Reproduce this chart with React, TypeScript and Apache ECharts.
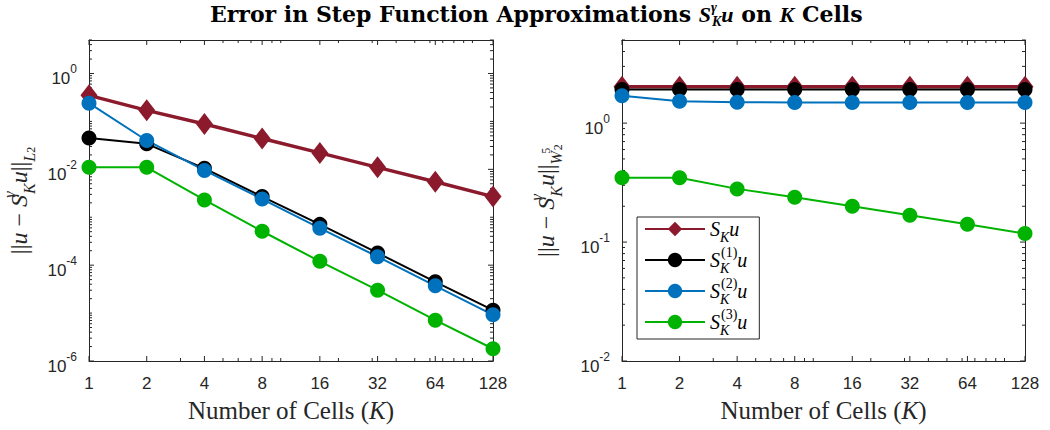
import React, { useEffect, useRef } from "react";
import * as echarts from "echarts";

// ---------- data ----------
const K = [1, 2, 4, 8, 16, 32, 64, 128];

const NAMES = ["S_K u", "S_K^(1) u", "S_K^(2) u", "S_K^(3) u"];

// Left panel: ||u - S u||_{L2}
const L_S0 = [0.35, 0.17, 0.088, 0.044, 0.022, 0.011, 0.0055, 0.0027];
const L_S1 = [0.045, 0.034, 0.0105, 0.0027, 7.1e-4, 1.8e-4, 4.5e-5, 1.15e-5];
const L_S2 = [0.24, 0.04, 0.0095, 0.0024, 5.9e-4, 1.5e-4, 3.7e-5, 9.2e-6];
const L_S3 = [0.011, 0.011, 0.0023, 5.1e-4, 1.2e-4, 3.0e-5, 7.1e-6, 1.8e-6];

// Right panel: ||u - S u||_{W_2^5}
const R_S0 = [2.02, 2.02, 2.02, 2.02, 2.02, 2.02, 2.02, 2.02];
const R_S1 = [1.92, 1.92, 1.92, 1.92, 1.92, 1.92, 1.92, 1.92];
const R_S2 = [1.7, 1.53, 1.5, 1.49, 1.49, 1.49, 1.49, 1.49];
const R_S3 = [0.347, 0.347, 0.28, 0.238, 0.2, 0.168, 0.141, 0.118];

// ticks
const X_MAJOR = [1, 2, 4, 8, 16, 32, 64, 128];
const X_MINOR = [3, 5, 6, 7, 9, 10, 20, 30, 40, 50, 60, 70, 80, 90, 100];
const YL_MAJOR = [1e-6, 1e-4, 1e-2, 1];
const YR_MAJOR = [0.01, 0.1, 1];
const MANTISSAS = [1, 2, 3, 4, 5, 6, 7, 8, 9];

const XMIN = 1, XMAX = 128;
const YL_MIN = 1e-6, YL_MAX = 5;
const YR_MIN = 0.01, YR_MAX = 5;

function minorTicks(minExp: number, maxVal: number, majors: number[]) {
  const out: number[] = [];
  for (let e = minExp; e <= 1; e++) {
    for (const m of MANTISSAS) {
      const v = parseFloat((m * Math.pow(10, e)).toPrecision(6));
      if (v > maxVal * 1.0001) continue;
      if (majors.some((mj) => Math.abs(mj - v) / v < 1e-6)) continue;
      out.push(v);
    }
  }
  return out;
}
const YL_MINOR = minorTicks(-6, YL_MAX, YL_MAJOR);
const YR_MINOR = minorTicks(-2, YR_MAX, YR_MAJOR);

// ---------- styles ----------
const RED = "#8C1A2D";
const BLACK = "#000000";
const BLUE = "#0072BD";
const GREEN = "#00B300";
const AX = "#262626";
const SANS = "'Liberation Sans', Arial, Helvetica, sans-serif";
const SERIF = "'Liberation Serif', 'Times New Roman', serif";
const TITLE_SERIF = "'DejaVu Serif', serif";

function mathRich(size: number, lh: number, color: string, smallOverride?: number) {
  const small = smallOverride || Math.round(size * 0.68);
  const tiny = Math.round(size * 0.5);
  return {
    n: { fontFamily: SERIF, fontSize: size, lineHeight: lh, color },
    i: { fontFamily: SERIF, fontStyle: "italic", fontSize: size, lineHeight: lh, color },
    supw: { fontFamily: SERIF, fontStyle: "italic", fontSize: small, lineHeight: small, verticalAlign: "top", width: 1, color },
    sup: { fontFamily: SERIF, fontSize: small, lineHeight: small, verticalAlign: "top", color },
    sub: { fontFamily: SERIF, fontStyle: "italic", fontSize: small, lineHeight: small, verticalAlign: "bottom", color },
    subw: { fontFamily: SERIF, fontStyle: "italic", fontSize: small, lineHeight: small, verticalAlign: "bottom", width: 1, color },
    ss: { fontFamily: SERIF, fontSize: tiny, lineHeight: tiny, verticalAlign: "bottom", color },
    ssup: { fontFamily: SERIF, fontSize: tiny, lineHeight: tiny, verticalAlign: "middle", width: 1, color },
  };
}

const LEGEND_LABELS: Record<string, string> = {
  "S_K u": "{i|S}{sub|K}{i|u}",
  "S_K^(1) u": "{i|S}{subw|K}{sup|(1)}{i|u}",
  "S_K^(2) u": "{i|S}{subw|K}{sup|(2)}{i|u}",
  "S_K^(3) u": "{i|S}{subw|K}{sup|(3)}{i|u}",
};

function yLabel(left: boolean) {
  return (v: number) => {
    const e = Math.log10(v);
    const r = Math.round(e);
    if (Math.abs(e - r) > 1e-6) return "";
    if (left && r % 2 !== 0) return "";
    return `{s| }{b|10}{e|${r}}`;
  };
}

const yLabelRich = {
  s: { fontSize: 10, lineHeight: 24, width: 0 },
  b: { fontFamily: SANS, fontSize: 17, lineHeight: 17, verticalAlign: "bottom", color: AX },
  e: { fontFamily: SANS, fontSize: 12, lineHeight: 12, verticalAlign: "top", color: AX },
};

function tickSeries(xIdx: number, yIdx: number, yMin: number, yMax: number, yMajor: number[], yMinor: number[]) {
  const data: number[][] = [
    ...X_MAJOR.map((v) => [v, yMin, 0, 5]),
    ...X_MINOR.map((v) => [v, yMin, 0, 3]),
    ...yMajor.map((v) => [XMIN, v, 1, 5]),
    ...yMinor.map((v) => [XMIN, v, 1, 3]),
  ];
  const style = { stroke: AX, lineWidth: 1 };
  return {
    type: "custom",
    xAxisIndex: xIdx,
    yAxisIndex: yIdx,
    silent: true,
    z: 1,
    data,
    renderItem: (_p: any, api: any) => {
      const o = api.value(2);
      const len = api.value(3);
      if (o === 0) {
        const x = api.value(0);
        const a = api.coord([x, yMin]);
        const b = api.coord([x, yMax]);
        return {
          type: "group",
          children: [
            { type: "line", shape: { x1: a[0], y1: a[1], x2: a[0], y2: a[1] - len }, style },
            { type: "line", shape: { x1: b[0], y1: b[1], x2: b[0], y2: b[1] + len }, style },
          ],
        };
      }
      const y = api.value(1);
      const a = api.coord([XMIN, y]);
      const b = api.coord([XMAX, y]);
      return {
        type: "group",
        children: [
          { type: "line", shape: { x1: a[0], y1: a[1], x2: a[0] + len, y2: a[1] }, style },
          { type: "line", shape: { x1: b[0], y1: b[1], x2: b[0] - len, y2: b[1] }, style },
        ],
      };
    },
  };
}

function xAxis(grid: number, top: boolean) {
  return {
    type: "log",
    logBase: 2,
    gridIndex: grid,
    min: XMIN,
    max: XMAX,
    position: top ? "top" : "bottom",
    axisLine: { show: true, lineStyle: { color: AX, width: 1 } },
    axisTick: { show: false },
    splitLine: { show: false },
    minorTick: { show: false },
    axisLabel: top
      ? { show: false }
      : {
          show: true,
          margin: 14,
          color: AX,
          fontFamily: SANS,
          fontSize: 17,
          formatter: (v: number) => String(Math.round(v)),
        },
    name: top ? "" : "{n|Number of Cells (}{i|K}{n|)}",
    nameLocation: "middle",
    nameGap: 36,
    nameTextStyle: { rich: mathRich(25, 27, AX) },
  };
}

function yAxis(grid: number, right: boolean, min: number, max: number, left: boolean, name: string, gap: number) {
  return {
    type: "log",
    logBase: 10,
    gridIndex: grid,
    min,
    max,
    position: right ? "right" : "left",
    axisLine: { show: true, lineStyle: { color: AX, width: 1 } },
    axisTick: { show: false },
    splitLine: { show: false },
    minorTick: { show: false },
    axisLabel: right
      ? { show: false }
      : { show: true, margin: 12, padding: [4, 0, 0, 0], formatter: yLabel(left), rich: yLabelRich },
    name: right ? "" : name,
    nameLocation: "middle",
    nameRotate: 90,
    nameGap: gap,
    nameTextStyle: { rich: mathRich(24, 36, AX) },
  };
}

function lineSeries(name: string, xi: number, yi: number, vals: number[], color: string, diamond: boolean, width: number) {
  return {
    name,
    type: "line",
    xAxisIndex: xi,
    yAxisIndex: yi,
    data: K.map((k, i) => [k, vals[i]]),
    symbol: diamond ? "diamond" : "circle",
    symbolSize: diamond ? [17, 22] : 15,
    showSymbol: true,
    lineStyle: { color, width },
    itemStyle: { color, borderWidth: 0 },
    emphasis: { disabled: true },
    z: 3,
  };
}

export default function App() {
  const ref = useRef<HTMLDivElement>(null);
  useEffect(() => {
    if (!ref.current) return;
    const chart = echarts.init(ref.current, undefined, { renderer: "svg" });
    const YL_NAME = "{n|||}{i|u}{n| − }{i|S}{supw|γ}{sub|K}{i|u}{n|||}{sub|L}{ss|2}";
    const YR_NAME = "{n|||}{i|u}{n| − }{i|S}{supw|γ}{sub|K}{i|u}{n|||}{sub|W}{ssup|5}{ss|2}";
    chart.setOption({
      animation: false,
      backgroundColor: "#ffffff",
      title: {
        text: "{b|Error in Step Function Approximations }{i|S}{supw|γ}{sub|K}{i|u}{b| on }{i|K}{b| Cells}",
        left: 210,
        top: 0,
        padding: 0,
        textStyle: {
          rich: {
            ...mathRich(22, 28, "#000", 14),
            b: { fontFamily: TITLE_SERIF, fontWeight: "bold", fontSize: 22, lineHeight: 28, color: "#000" },
          },
        },
      },
      legend: {
        data: NAMES,
        orient: "vertical",
        left: 637,
        top: 217,
        itemWidth: 60,
        itemHeight: 18,
        itemGap: 1,
        padding: [2, 12, 2, 7],
        backgroundColor: "#ffffff",
        borderColor: AX,
        borderWidth: 1,
        borderRadius: 0,
        selectedMode: false,
        formatter: (n: string) => LEGEND_LABELS[n] || n,
        textStyle: { rich: mathRich(20, 30, "#000") },
      },
      grid: [
        { left: 89, top: 40, width: 404, height: 321, outerBoundsMode: "none", containLabel: false },
        { left: 622, top: 40, width: 403, height: 321, outerBoundsMode: "none", containLabel: false },
      ],
      xAxis: [xAxis(0, false), xAxis(0, true), xAxis(1, false), xAxis(1, true)],
      yAxis: [
        yAxis(0, false, YL_MIN, YL_MAX, true, YL_NAME, 52),
        yAxis(0, true, YL_MIN, YL_MAX, true, "", 52),
        yAxis(1, false, YR_MIN, YR_MAX, false, YR_NAME, 58),
        yAxis(1, true, YR_MIN, YR_MAX, false, "", 58),
      ],
      series: [
        tickSeries(0, 0, YL_MIN, YL_MAX, YL_MAJOR, YL_MINOR),
        tickSeries(2, 2, YR_MIN, YR_MAX, YR_MAJOR, YR_MINOR),
        lineSeries(NAMES[0], 0, 0, L_S0, RED, true, 3.5),
        lineSeries(NAMES[1], 0, 0, L_S1, BLACK, false, 2),
        lineSeries(NAMES[2], 0, 0, L_S2, BLUE, false, 2),
        lineSeries(NAMES[3], 0, 0, L_S3, GREEN, false, 2),
        lineSeries(NAMES[0], 2, 2, R_S0, RED, true, 3.5),
        lineSeries(NAMES[1], 2, 2, R_S1, BLACK, false, 2),
        lineSeries(NAMES[2], 2, 2, R_S2, BLUE, false, 2),
        lineSeries(NAMES[3], 2, 2, R_S3, GREEN, false, 2),
      ],
    });
    return () => chart.dispose();
  }, []);
  return (
    <div
      ref={ref}
      style={{ position: "absolute", left: 0, top: 0, width: 1050, height: 430, background: "#fff" }}
    />
  );
}
